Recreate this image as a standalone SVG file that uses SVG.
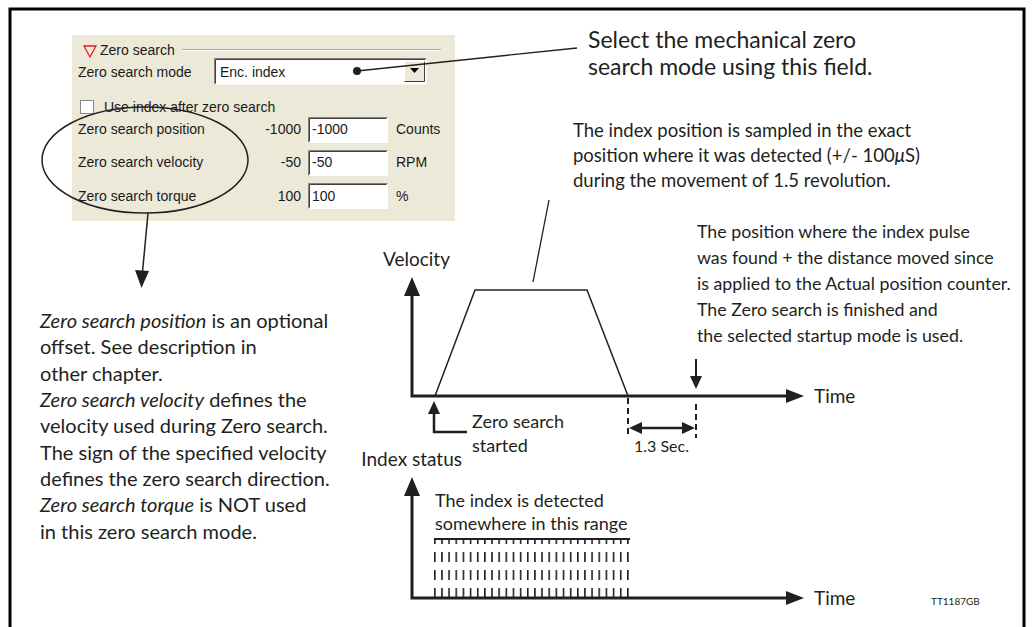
<svg xmlns="http://www.w3.org/2000/svg" width="1034" height="627" viewBox="0 0 1034 627">
<defs>
<style>
.t{font-family:Lato,"Open Sans",sans-serif;fill:#231f20}
.big{font-size:23px}
.m{font-size:19px}
.ix{font-size:18.5px}
.rb{font-size:17.8px}
.lb{font-size:20px}
.s{font-size:18px}
.i{font-style:italic}
.d{font-family:"Liberation Sans",Arial,sans-serif;font-size:14px;fill:#1a1a1a}
.ax{stroke:#231f20;stroke-width:3;fill:none}
.ln{stroke:#231f20;stroke-width:1.5;fill:none}
.ah{fill:#231f20}
.sunk{fill:#fff;stroke:none}
.dk{stroke:#808080;fill:none;stroke-width:1}
.lt{stroke:#ffffff;fill:none;stroke-width:1}
.dash{stroke:#231f20;stroke-width:2;stroke-dasharray:6 4;fill:none}
</style>
<pattern id="hatch" patternUnits="userSpaceOnUse" x="434" y="534" width="7.15" height="18">
<rect x="0" y="0" width="1.6" height="10" fill="#231f20"/>
</pattern>
</defs>
<rect width="1034" height="627" fill="#fff"/>
<path d="M10,627 V9 H1024 V627" stroke="#000" stroke-width="3" fill="none"/>

<g id="dialog">
<rect x="72" y="35" width="383" height="186" fill="#ECE9D8"/>
<path d="M84,46 H96 L90,57 Z" fill="none" stroke="#e0201c" stroke-width="1.3"/>
<text class="d" x="100" y="55">Zero search</text>
<line x1="182" y1="49.5" x2="441" y2="49.5" stroke="#aca899"/>
<line x1="182" y1="50.5" x2="441" y2="50.5" stroke="#fff"/>
<text class="d" x="78" y="77">Zero search mode</text>
<rect x="214" y="58" width="213" height="27" class="sunk"/>
<path d="M214.5,84.5 V58.5 H426.5" class="dk"/>
<path d="M215.5,83.5 V59.5 H425.5" stroke="#404040" fill="none"/>
<path d="M214.5,84.5 H426.5 V58.5" stroke="#f4f3ee" fill="none"/>
<text class="d" x="220" y="77">Enc. index</text>
<rect x="404" y="61" width="21" height="21" fill="#ECE9D8"/>
<path d="M404.5,81.5 V61.5 H424.5" class="lt"/>
<path d="M404.5,81.5 H424.5 V61.5" stroke="#404040" fill="none"/>
<path d="M410,68 H419 L414.5,73 Z" fill="#000"/>
<rect x="80.5" y="100.5" width="13" height="13" fill="#fff" stroke="#8a8a8a"/>
<text class="d" x="104" y="112">Use index after zero search</text>
<text class="d" x="78" y="134">Zero search position</text>
<text class="d" x="78" y="167">Zero search velocity</text>
<text class="d" x="78" y="201">Zero search torque</text>
<text class="d" x="301" y="134" text-anchor="end">-1000</text>
<text class="d" x="301" y="167" text-anchor="end">-50</text>
<text class="d" x="301" y="201" text-anchor="end">100</text>
<rect x="308" y="117" width="80" height="26" fill="#fff"/>
<path d="M308.5,142.5 V117.5 H387.5" class="dk"/>
<path d="M309.5,141.5 V118.5 H386.5" stroke="#404040" fill="none"/>
<rect x="308" y="150" width="80" height="26" fill="#fff"/>
<path d="M308.5,175.5 V150.5 H387.5" class="dk"/>
<path d="M309.5,174.5 V151.5 H386.5" stroke="#404040" fill="none"/>
<rect x="308" y="183" width="80" height="26" fill="#fff"/>
<path d="M308.5,208.5 V183.5 H387.5" class="dk"/>
<path d="M309.5,207.5 V184.5 H386.5" stroke="#404040" fill="none"/>
<text class="d" x="312" y="134">-1000</text>
<text class="d" x="312" y="167">-50</text>
<text class="d" x="312" y="201">100</text>
<text class="d" x="396" y="134">Counts</text>
<text class="d" x="396" y="167">RPM</text>
<text class="d" x="396" y="201">%</text>
</g>

<g id="connectors">
<ellipse cx="145" cy="160" rx="103" ry="53" class="ln"/>
<line x1="148" y1="213" x2="142.5" y2="272" class="ln"/>
<polygon points="141.5,288 135,270 149,271" class="ah"/>
<circle cx="357" cy="71" r="4" class="ah"/>
<line x1="357" y1="71" x2="577" y2="48" stroke="#231f20" stroke-width="1.3"/>
<line x1="533" y1="282" x2="549" y2="200" stroke="#231f20" stroke-width="1.3"/>
</g>

<g id="notes">
<text class="t big" x="588" y="48">Select the mechanical zero</text>
<text class="t big" x="588" y="75">search mode using this field.</text>
<text class="t ix" x="573" y="137">The index position is sampled in the exact</text>
<text class="t ix" x="573" y="162">position where it was detected (+/- 100<tspan class="i">μ</tspan>S)</text>
<text class="t ix" x="573" y="187">during the movement of 1.5 revolution.</text>
<text class="t rb" x="697" y="238">The position where the index pulse</text>
<text class="t rb" x="697" y="264">was found + the distance moved since</text>
<text class="t rb" x="697" y="290">is applied to the Actual position counter.</text>
<text class="t rb" x="697" y="316">The Zero search is finished and</text>
<text class="t rb" x="697" y="342">the selected startup mode is used.</text>
</g>

<g id="description">
<text class="t lb" x="40" y="328"><tspan class="i">Zero search position</tspan> is an optional</text>
<text class="t lb" x="40" y="354">offset. See description in</text>
<text class="t lb" x="40" y="380.5">other chapter.</text>
<text class="t lb" x="40" y="407"><tspan class="i">Zero search velocity</tspan> defines the</text>
<text class="t lb" x="40" y="433">velocity used during Zero search.</text>
<text class="t lb" x="40" y="459.5">The sign of the specified velocity</text>
<text class="t lb" x="40" y="486">defines the zero search direction.</text>
<text class="t lb" x="40" y="512"><tspan class="i">Zero search torque</tspan> is NOT used</text>
<text class="t lb" x="40" y="538.5">in this zero search mode.</text>
</g>

<g id="velocity-chart">
<path d="M412,292 V396 H790" class="ax"/>
<polygon points="412,277 404,296 420,296" class="ah"/>
<polygon points="804,396 786,389 786,403" class="ah"/>
<text class="t m" x="383" y="266">Velocity</text>
<text class="t m" x="814" y="403">Time</text>
<path d="M435,396 L475,290 H587 L628,396" class="ln" stroke-width="1.6"/>
<path d="M434,412 V432 H467" stroke="#231f20" stroke-width="2.5" fill="none"/>
<polygon points="434,401 428,414 440,414" class="ah"/>
<text class="t s" x="472" y="428">Zero search</text>
<text class="t s" x="472" y="452">started</text>
<line x1="696" y1="359" x2="696" y2="378" stroke="#231f20" stroke-width="2"/>
<polygon points="696,389 690,376 702,376" class="ah"/>
<line x1="628" y1="398" x2="628" y2="438" class="dash"/>
<line x1="696" y1="404" x2="696" y2="438" class="dash"/>
<line x1="638" y1="428" x2="686" y2="428" stroke="#231f20" stroke-width="2.5"/>
<polygon points="629,428 642,422 642,434" class="ah"/>
<polygon points="695,428 682,422 682,434" class="ah"/>
<text class="t" x="634" y="452" font-size="16">1.3 Sec.</text>
</g>

<g id="index-chart">
<path d="M412,494 V598 H790" class="ax"/>
<polygon points="412,477 404,496 420,496" class="ah"/>
<polygon points="804,598 786,591 786,605" class="ah"/>
<text class="t m" x="462" y="466" text-anchor="end">Index status</text>
<text class="t m" x="814" y="605">Time</text>
<text class="t s" x="435" y="507">The index is detected</text>
<text class="t s" x="435" y="530">somewhere in this range</text>
<line x1="434" y1="539" x2="630" y2="539" stroke="#231f20" stroke-width="2"/>
<rect x="434" y="540" width="196" height="58" fill="url(#hatch)"/>
<text class="t" x="931" y="605" font-size="10">TT1187GB</text>
</g>
</svg>
